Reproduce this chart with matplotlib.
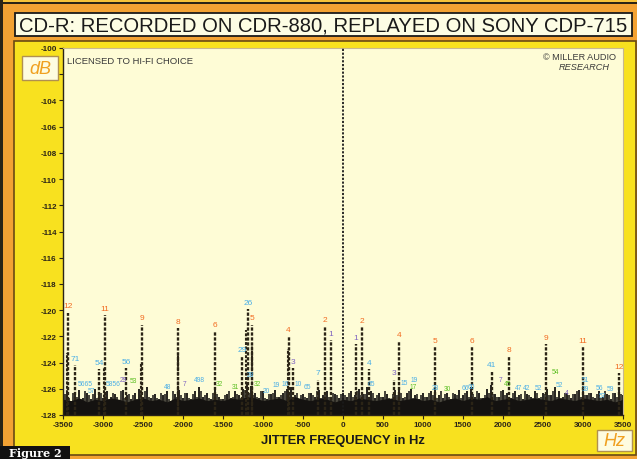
import numpy as np
import matplotlib
matplotlib.use("Agg")
import matplotlib.pyplot as plt
from matplotlib.patches import Rectangle
from matplotlib import font_manager

# ── data ──────────────────────────────────────────────────────────────────────
TITLE = "CD-R: RECORDED ON CDR-880, REPLAYED ON SONY CDP-715"

# noise spikes, every 50 Hz from -3500 to 3500
NOISE_START, NOISE_STOP, NOISE_STEP = -3500, 3500, 50
noise_db = [
    -126.6, -126.2, -126.9, -126.4, -126.1, -126.7, -126.3, -126.8, -126.0, -126.5,
    -126.7, -126.2, -126.6, -126.4, -126.9, -126.1, -126.5, -126.8, -126.3, -126.0,
    -126.6, -125.9, -126.7, -126.4, -126.8, -126.5, -126.2, -126.9, -126.4, -126.1,
    -126.7, -126.3, -126.8, -126.2, -125.9, -126.6, -126.3, -126.8, -126.0, -126.6,
    -126.8, -126.4, -126.7, -126.2, -126.5, -126.0, -125.6, -125.8, -126.3, -126.7,
    -126.2, -126.8, -126.4, -126.1, -126.6, -126.3, -126.0, -125.9, -126.5, -126.8,
    -126.4, -126.7, -126.3, -126.6, -126.1, -126.5, -126.2, -126.6, -126.4, -126.7,
    -126.3, -126.6, -126.2, -126.5, -126.0, -126.4, -125.9, -126.2, -126.7, -126.3,
    -126.6, -126.4, -126.8, -126.1, -126.0, -126.7, -126.3, -126.0, -126.5, -126.8,
    -126.3, -126.6, -126.2, -126.0, -126.5, -126.7, -126.3, -126.8, -126.4, -126.1,
    -126.5, -126.2, -125.9, -126.6, -126.3, -126.7, -126.0, -125.7, -126.4, -126.6,
    -126.1, -126.3, -126.7, -126.2, -126.5, -126.8, -126.4, -126.6, -126.2, -126.7,
    -126.3, -126.0, -126.5, -125.9, -126.2, -126.6, -126.3, -126.7, -126.4, -126.1,
    -125.8, -126.5, -126.3, -126.7, -126.2, -126.6, -126.4, -126.8, -126.3, -126.1,
    -126.5,
]

# in-between noise spikes, every 50 Hz from -3475 to 3475
noise_mid_db = [
    -126.4, -126.7, -126.3, -126.6, -126.8, -126.2, -126.5, -126.4, -126.7, -126.3,
    -126.5, -126.8, -126.3, -126.6, -126.2, -126.7, -126.4, -126.5, -126.8, -126.3,
    -126.2, -126.6, -126.5, -126.7, -126.3, -126.4, -126.8, -126.2, -126.6, -126.5,
    -126.3, -126.7, -126.4, -126.6, -126.2, -126.5, -126.7, -126.3, -126.4, -126.8,
    -126.5, -126.2, -126.6, -126.4, -126.7, -126.1, -126.3, -126.5, -126.6, -126.2,
    -126.7, -126.4, -126.3, -126.6, -126.5, -126.2, -126.4, -126.7, -126.3, -126.5,
    -126.6, -126.3, -126.5, -126.2, -126.7, -126.4, -126.6, -126.3, -126.5, -126.4,
    -126.5, -126.3, -126.6, -126.2, -126.5, -126.4, -126.7, -126.3, -126.5, -126.6,
    -126.2, -126.7, -126.4, -126.5, -126.3, -126.6, -126.2, -126.7, -126.4, -126.5,
    -126.6, -126.3, -126.5, -126.7, -126.2, -126.4, -126.6, -126.3, -126.5, -126.7,
    -126.3, -126.6, -126.4, -126.2, -126.7, -126.5, -126.3, -126.4, -126.6, -126.2,
    -126.5, -126.7, -126.3, -126.6, -126.4, -126.2, -126.5, -126.7, -126.3, -126.6,
    -126.4, -126.5, -126.2, -126.6, -126.7, -126.3, -126.5, -126.4, -126.2, -126.6,
    -126.5, -126.3, -126.6, -126.4, -126.7, -126.2, -126.5, -126.3, -126.6, -126.4,
]

# solid body of the noise floor, every 100 Hz from -3500 to 3500
BODY_STEP = 100
noise_body_db = [
    -126.8, -126.9, -126.7, -127.0, -126.8, -126.9, -126.7, -126.8, -127.0, -126.8,
    -126.7, -126.9, -126.8, -127.0, -126.7, -126.9, -126.8, -126.7, -126.9, -126.8,
    -126.9, -126.7, -126.8, -126.6, -126.7, -126.9, -126.8, -126.7, -126.9, -126.6,
    -126.8, -126.9, -126.7, -126.8, -127.0, -126.8, -126.9, -126.7, -126.8, -126.9,
    -126.8, -126.7, -126.9, -126.8, -126.7, -126.9, -126.8, -127.0, -126.8, -126.7,
    -126.9, -126.7, -126.8, -126.6, -126.9, -126.8, -126.7, -126.9, -126.8, -126.7,
    -126.8, -126.9, -126.7, -126.8, -126.9, -126.7, -126.8, -126.9, -126.8, -127.0,
    -126.8,
]

# labelled jitter sidebands: frequency (Hz), level (dB), label, colour key
peak_freq = [-3440, -3350, -3050, -2980, -2710, -2515, -2060, -1600, -1260, -1190,
             -1135, -680, -625, -310, -225, -150, 160, 240, 330, 640,
             700, 1150, 1610, 1860, 2080, 2540, 3000, 3450]
peak_db = [-120.2, -124.2, -124.5, -120.4, -124.4, -121.1, -121.4, -121.6, -123.5, -119.9,
           -121.1, -122.0, -124.4, -125.3, -121.2, -122.3, -122.6, -121.3, -124.5, -125.3,
           -122.4, -122.8, -122.8, -124.7, -123.5, -122.6, -122.8, -124.8]
peak_label = ["12", "71", "54", "11", "56", "9", "8", "6", "29", "26",
              "5", "4", "3", "7", "2", "1", "1", "2", "4", "3",
              "4", "5", "6", "41", "8", "9", "11", "12"]
peak_kind = ["o", "b", "b", "o", "b", "o", "o", "o", "b", "b",
             "o", "o", "p", "b", "o", "p", "p", "o", "b", "p",
             "o", "o", "o", "b", "o", "o", "o", "o"]

# shorter unlabelled lines sitting beside the main ones
extra_freq = [-3448, -2990, -2522, -2068, -1208, -1143, -690]
extra_db = [-123.3, -124.3, -124.0, -123.3, -121.5, -122.5, -123.0]

# carrier at 0 Hz (off the top of the scale)
CARRIER_FREQ = 0
CARRIER_DB = 0.0

# small labels down in the noise
floor_freq = [-3225, -3150, -2875, -2750, -2625, -2190, -1975, -1790, -1540, -1340,
              -1160, -1075, -960, -840, -725, -560, -440, 360, 760, 890,
              875, 1160, 1310, 1525, 1610, 1975, 2060, 2200, 2300, 2440,
              2650, 2710, 2800, 3025, 3025, 3210, 3240, 3340]
floor_db = [-125.6, -126.1, -125.6, -125.3, -125.4, -125.8, -125.6, -125.3, -125.6, -125.8,
            -124.9, -125.6, -126.1, -125.7, -125.6, -125.6, -125.8, -125.6, -125.5, -125.3,
            -125.8, -125.9, -126.0, -125.9, -125.8, -125.3, -125.6, -125.9, -125.9, -125.9,
            -124.7, -125.7, -126.3, -125.3, -126.0, -125.9, -126.5, -126.0]
floor_label = ["5665", "57", "5856", "29", "53", "48", "7", "498", "32", "31",
               "28", "32", "20", "19", "16", "10", "65", "65", "15", "19",
               "17", "28", "30", "66", "60", "7", "45", "47", "42", "52",
               "54", "52", "4", "51", "39", "56", "57", "59"]
floor_kind = ["b", "b", "b", "p", "g", "b", "p", "b", "g", "g",
              "b", "g", "b", "b", "b", "b", "b", "b", "b", "b",
              "g", "b", "g", "b", "b", "p", "g", "b", "b", "b",
              "g", "b", "p", "b", "b", "b", "b", "b"]

x_ticks = list(range(-3500, 3501, 500))
y_ticks = list(range(-128, -99, 2))
HIDDEN_Y_TICK = -102   # sits under the "dB" badge in the original

# ── styling ───────────────────────────────────────────────────────────────────
W, H = 637, 460
ORANGE = "#f3a233"
YELLOW = "#f8e11f"
PALE = "#fefcd6"
DARK = "#2b2416"
NOISE = "#141210"
LABEL_COLORS = {"o": "#f26b21", "b": "#4aaee6", "p": "#7d62c0", "g": "#5cbf22"}

installed = {f.name for f in font_manager.fontManager.ttflist}
SANS = "Liberation Sans" if "Liberation Sans" in installed else "DejaVu Sans"
NARROW = "Liberation Sans Narrow" if "Liberation Sans Narrow" in installed else SANS


def px_rect(fig, x0, y0, x1, y1, z=-1, **kw):
    r = Rectangle((x0 / W, 1 - y1 / H), (x1 - x0) / W, (y1 - y0) / H,
                  transform=fig.transFigure, zorder=z, **kw)
    fig.patches.append(r)
    return r


def px_text(fig, x, y, s, **kw):
    return fig.text(x / W, 1 - y / H, s, zorder=6, **kw)


fig = plt.figure(figsize=(W / 100, H / 100), dpi=100, facecolor=ORANGE)

# ── frame ─────────────────────────────────────────────────────────────────────
px_rect(fig, 0, 0, W, 3, facecolor="#f6c23a", edgecolor="none")
px_rect(fig, 0, 3, W, 5, facecolor=DARK, edgecolor="none")
px_rect(fig, 0, 0, 3, H, facecolor=DARK, edgecolor="none")
px_rect(fig, 14, 42, 636, 456, facecolor=YELLOW, edgecolor="#6a4a12", linewidth=1.2)
px_rect(fig, 15, 14, 632, 37, facecolor="#fdfde4", edgecolor="#1a1a1a", linewidth=1.3)
px_text(fig, 323, 26, TITLE, ha="center", va="center", fontsize=14.6,
        family=SANS, color="#1a1a1a")

# ── plot ──────────────────────────────────────────────────────────────────────
ax = fig.add_axes([63 / W, 1 - 416 / H, 560 / W, 367 / H], facecolor=PALE)
ax.set_zorder(1)
ax.set_xlim(-3500, 3500)
ax.set_ylim(-128, -100)

noise_freq = np.arange(NOISE_START, NOISE_STOP + 1, NOISE_STEP)
mid_freq = noise_freq[:-1] + NOISE_STEP / 2
body_freq = np.arange(NOISE_START, NOISE_STOP + 1, BODY_STEP)
ax.fill_between(body_freq, -128, noise_body_db, color=NOISE, linewidth=0, zorder=2)
ax.vlines(noise_freq, -128, noise_db, color=NOISE, linewidth=1.3, zorder=2)
ax.vlines(mid_freq, -128, noise_mid_db, color=NOISE, linewidth=1.1, zorder=2)

ax.vlines(CARRIER_FREQ, -128, CARRIER_DB, color="#1a1a1a", linewidth=1.3,
          linestyles=(0, (1.2, 0.9)), zorder=3)
ax.vlines(extra_freq, -128, extra_db, color=DARK, linewidth=1.5,
          linestyles=(0, (1.4, 0.7)), zorder=3)
ax.vlines(peak_freq, -128, peak_db, color=DARK, linewidth=1.7,
          linestyles=(0, (1.4, 0.7)), zorder=4)

for f, d, s, k in zip(peak_freq, peak_db, peak_label, peak_kind):
    ax.text(f, d + 0.25, s, ha="center", va="bottom", fontsize=6,
            color=LABEL_COLORS[k], family=SANS, zorder=6)

for f, d, s, k in zip(floor_freq, floor_db, floor_label, floor_kind):
    ax.text(f, d, s, ha="center", va="center", fontsize=4.8,
            color=LABEL_COLORS[k], family=SANS, zorder=5)

for side in ("top", "right"):
    ax.spines[side].set_color("#c8b890")
    ax.spines[side].set_linewidth(0.8)
for side in ("left", "bottom"):
    ax.spines[side].set_color(DARK)
    ax.spines[side].set_linewidth(1.0)

ax.set_xticks(x_ticks)
ax.set_xticklabels([str(v) for v in x_ticks])
ax.set_yticks(y_ticks)
ax.set_yticklabels(["" if v == HIDDEN_Y_TICK else str(v) for v in y_ticks])
ax.tick_params(axis="both", direction="out", length=3, width=0.8, color=DARK,
               labelsize=5.8, labelcolor=DARK, pad=1.5)
for lbl in ax.get_xticklabels() + ax.get_yticklabels():
    lbl.set_fontweight("bold")
    lbl.set_family(NARROW)

# ── annotations ───────────────────────────────────────────────────────────────
px_text(fig, 67, 61, "LICENSED TO HI-FI CHOICE", ha="left", va="center",
        fontsize=6.8, family=NARROW, color="#3a3a3a")
px_text(fig, 616, 58, "\u00a9 MILLER AUDIO", ha="right", va="center",
        fontsize=6.6, family=NARROW, color="#3a3a3a")
px_text(fig, 610, 68, "RESEARCH", ha="right", va="center", fontsize=6.6,
        family=NARROW, style="italic", color="#3a3a3a")

px_rect(fig, 22, 57, 58, 81, z=5, facecolor="#fefce0", edgecolor="#b09050", linewidth=1.0)
px_text(fig, 40, 69, "dB", ha="center", va="center", fontsize=13, family=SANS,
        style="italic", color="#f0a020")
px_rect(fig, 597, 431, 632, 452, z=5, facecolor="#fefce0", edgecolor="#b09050", linewidth=1.0)
px_text(fig, 614, 441.5, "Hz", ha="center", va="center", fontsize=13, family=SANS,
        style="italic", color="#f0a020")

px_text(fig, 343, 441, "JITTER FREQUENCY in Hz", ha="center", va="center",
        fontsize=9.4, family=SANS, fontweight="bold", color="#1a1a1a")

px_rect(fig, 0, 447, 70, H, z=5, facecolor="#111111", edgecolor="none")
px_text(fig, 35, 454, "Figure 2", ha="center", va="center", fontsize=8,
        family="DejaVu Serif", fontweight="bold", color="white")

fig.savefig("out.png", dpi=100, facecolor=ORANGE)
